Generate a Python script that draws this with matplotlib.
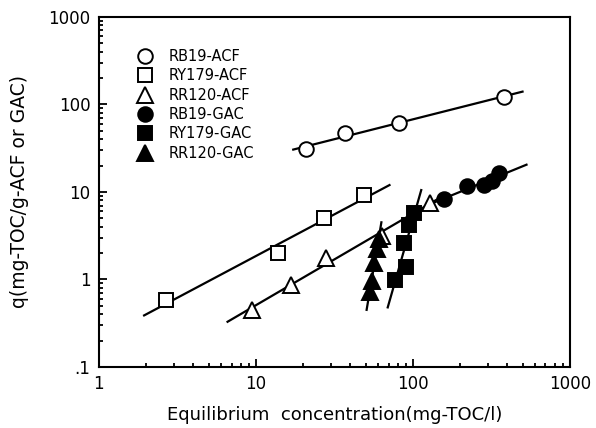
import matplotlib
matplotlib.use("Agg")
import matplotlib.pyplot as plt
import numpy as np
from matplotlib.ticker import FixedLocator, FixedFormatter, LogLocator, NullFormatter

# Données (Ce en mg-TOC/l, q en mg-TOC/g)
rb19_acf_x = [20.9, 37.2, 81.3, 383]
rb19_acf_y = [31, 47, 61.5, 122]
ry179_acf_x = [2.69, 13.8, 27.3, 49.2]
ry179_acf_y = [0.58, 2.01, 5.05, 9.25]
rr120_acf_x = [9.4, 16.8, 28.1, 63.3, 128]
rr120_acf_y = [0.45, 0.87, 1.76, 3.1, 7.5]
rb19_gac_x = [158, 222, 285, 321, 356]
rb19_gac_y = [8.3, 11.7, 12.0, 13.4, 16.5]
ry179_gac_x = [101.5, 94.3, 87.5, 90.2, 76.7]
ry179_gac_y = [5.75, 4.2, 2.61, 1.39, 0.99]
rr120_gac_x = [61, 58.8, 56.2, 54.6, 53.5]
rr120_gac_y = [2.9, 2.25, 1.55, 0.95, 0.72]

# Étendue des droites de Freundlich (en x)
fit_ranges = {
    "RB19-ACF": (17.3, 500),
    "RY179-ACF": (1.94, 71),
    "RR120-ACF": (6.6, 150),
    "RB19-GAC": (120, 530),
}
# pour les droites GAC très raides, on borne plutôt en y
fit_yranges = {
    "RY179-GAC": (0.48, 10.5),
    "RR120-GAC": (0.45, 4.5),
}

series = [
    ("RB19-ACF", rb19_acf_x, rb19_acf_y, "o", "white"),
    ("RY179-ACF", ry179_acf_x, ry179_acf_y, "s", "white"),
    ("RR120-ACF", rr120_acf_x, rr120_acf_y, "^", "white"),
    ("RB19-GAC", rb19_gac_x, rb19_gac_y, "o", "black"),
    ("RY179-GAC", ry179_gac_x, ry179_gac_y, "s", "black"),
    ("RR120-GAC", rr120_gac_x, rr120_gac_y, "^", "black"),
]

plt.rcParams['font.family'] = ['DejaVu Sans']

fig = plt.figure(figsize=(5.96, 4.28), dpi=100)
ax = fig.add_axes([0.166, 0.1425, 0.79, 0.818])

handles = []
for name, xs, ys, mk, fc in series:
    lx, ly = np.log10(xs), np.log10(ys)
    k, b = np.polyfit(lx, ly, 1)
    if name in fit_yranges:
        y0, y1 = fit_yranges[name]
        xl = (np.log10([y0, y1]) - b) / k
    else:
        xl = np.log10(fit_ranges[name])
    ax.plot(10 ** xl, 10 ** (k * xl + b), color="black", lw=1.6, zorder=2)
    h, = ax.plot(xs, ys, ls="none", marker=mk, ms=10.5 if mk != "^" else 11.5,
                 mfc=fc, mec="black", mew=1.4, zorder=3, label=name)
    handles.append(h)

ax.set_xscale("log")
ax.set_yscale("log")
ax.set_xlim(1, 1000)
ax.set_ylim(0.1, 1000)

ax.xaxis.set_major_locator(FixedLocator([1, 10, 100, 1000]))
ax.xaxis.set_major_formatter(FixedFormatter(["1", "10", "100", "1000"]))
ax.yaxis.set_major_locator(FixedLocator([0.1, 1, 10, 100, 1000]))
ax.yaxis.set_major_formatter(FixedFormatter([".1", "1", "10", "100", "1000"]))
for axis in (ax.xaxis, ax.yaxis):
    axis.set_minor_locator(LogLocator(base=10, subs=np.arange(2, 10)))
    axis.set_minor_formatter(NullFormatter())

ax.tick_params(which="both", direction="in", top=False, right=False, width=1.3)
ax.tick_params(which="major", length=6, labelsize=12)
ax.tick_params(axis="y", which="major", pad=6)
ax.tick_params(axis="x", which="major", pad=6)
ax.tick_params(which="minor", length=3)
for sp in ax.spines.values():
    sp.set_linewidth(1.5)

ax.set_xlabel("Equilibrium  concentration(mg-TOC/l)", fontsize=13, labelpad=9)
ax.set_ylabel("q(mg-TOC/g-ACF or GAC)", fontsize=13.5, labelpad=14)

leg = ax.legend(handles=handles, loc="upper left", bbox_to_anchor=(0.07, 0.925),
                frameon=False, fontsize=10.5, handlelength=1.0, handletextpad=1.1,
                labelspacing=0.3, borderaxespad=0)

fig.savefig("out.png", dpi=100)
